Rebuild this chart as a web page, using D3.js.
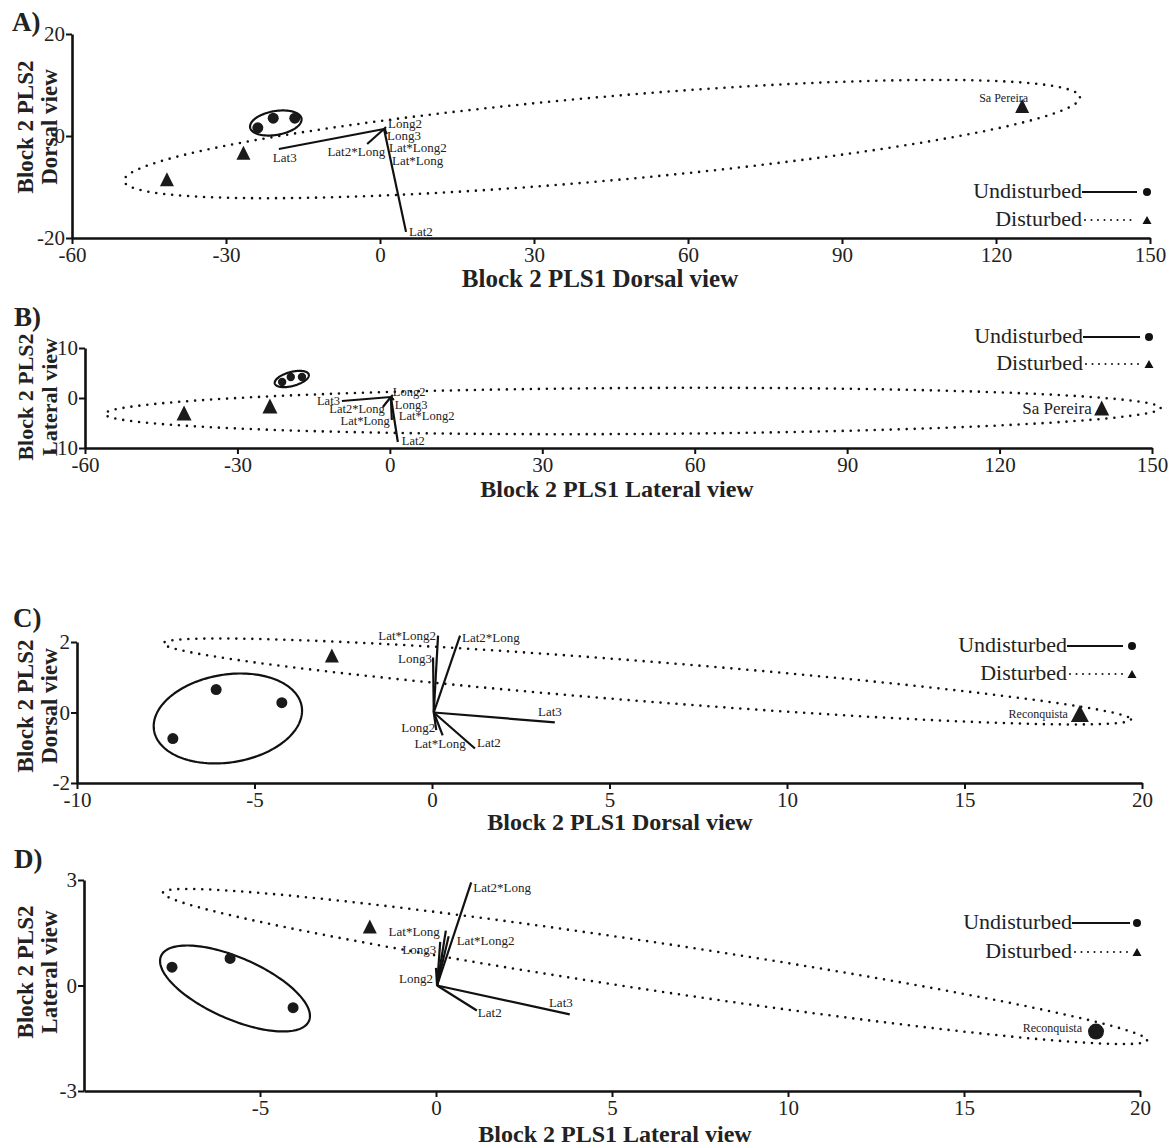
<!DOCTYPE html>
<html><head><meta charset="utf-8">
<script src="https://cdn.jsdelivr.net/npm/d3@7"></script>
<style>
body{margin:0;background:#fff;}
svg{display:block;}
text{font-family:"Liberation Serif","DejaVu Serif",serif;fill:#222;}
</style></head><body>
<svg id="chart" width="1169" height="1146"></svg>
<script>
// ---------- DATA ----------
const panelLabels = ["A)", "B)", "C)", "D)"];
const xTitles = ["Block 2 PLS1 Dorsal view", "Block 2 PLS1 Lateral view", "Block 2 PLS1 Dorsal view", "Block 2 PLS1 Lateral view"];
const yTitles = [["Block 2 PLS2", "Dorsal view"], ["Block 2 PLS2", "Lateral view"], ["Block 2 PLS2", "Dorsal view"], ["Block 2 PLS2", "Lateral view"]];
const legendLabels = ["Undisturbed", "Disturbed"];

const xTicksAB = [-60, -30, 0, 30, 60, 90, 120, 150];
const yTicksA = [-20, 0, 20];
const yTicksB = [-10, 0, 10];
const xTicksC = [-10, -5, 0, 5, 10, 15, 20];
const yTicksC = [-2, 0, 2];
const xTicksD = [-5, 0, 5, 10, 15, 20];
const yTicksD = [-3, 0, 3];

// scores: [PLS1, PLS2]
const undisturbedA = [[-23.8, 1.6], [-20.8, 3.5], [-16.6, 3.5]];
const disturbedA = [[-26.6, -3.3], [-41.5, -8.5], [125.1, 5.9]];
const undisturbedB = [[-21.2, 3.2], [-19.5, 4.2], [-17.3, 4.2]];
const disturbedB = [[-40.5, -3.0], [-23.6, -1.6], [140.1, -2.0]];
const undisturbedC = [[-6.08, 0.65], [-4.23, 0.28], [-7.3, -0.74]];
const disturbedC = [[-2.82, 1.62], [18.25, -0.03]];
const undisturbedD = [[-7.5, 0.52], [-5.85, 0.77], [-4.06, -0.63]];
const disturbedD = [[-1.88, 1.68]];
const reconquistaD = [[18.75, -1.31]];

const siteNames = ["Sa Pereira", "Sa Pereira", "Reconquista", "Reconquista"];
const sitePoints = [[125.1, 5.9], [140.1, -2.0], [18.25, -0.03], [18.75, -1.31]];

// 95% ellipses: centre, semi-axis vector 1, semi-axis vector 2 (data units)
const ellipseUndA = [[-20.3, 2.55], [5.0, 0.88], [0.41, -2.3]];
const ellipseDisA = [[43.25, -0.6], [93.1, 8.2], [0.72, -8.2]];
const ellipseUndB = [[-19.3, 3.8], [3.34, 0.9], [0.35, -1.36]];
const ellipseDisB = [[47.8, -2.6], [103.9, 0.6], [0, -4.6]];
const ellipseUndC = [[-5.75, -0.17], [2.08, 0.34], [0.2, -1.23]];
const ellipseDisC = [[6.06, 0.88], [13.63, -1.08], [-0.044, -0.566]];
const ellipseUndD = [[-5.71, -0.085], [2.10, -0.926], [-0.352, -0.798]];
const ellipseDisD = [[6.22, 0.54], [13.98, -2.10], [-0.10, -0.674]];

// loadings (block 1 variables): origin and end points
const loadingNames = ["Lat3", "Lat2*Long", "Lat2", "Long2", "Long3", "Lat*Long2", "Lat*Long"];
const originA = [0.78, 1.37];
const loadingsA = [[-19.7, -2.55], [-2.5, -1.57], [5.07, -18.8], [1.17, 1.76], [1.17, 1.18], [1.17, 0.78], [1.36, 0.39]];
const originB = [0.2, 0.2];
const loadingsB = [[-9.44, -0.6], [-1.38, -1.8], [1.57, -8.8], [0.59, 0.6], [0.59, -0.2], [0.79, -0.4], [0.39, -4.4]];
const originC = [0.05, 0.0];
const loadingsC = [[3.46, -0.28], [0.79, 2.18], [1.21, -1.02], [0.12, -0.5], [0.03, 1.56], [0.17, 2.18], [0.3, -0.65]];
const originD = [0.03, 0.0];
const loadingsD = [[3.8, -0.82], [1.0, 2.93], [1.16, -0.71], [0.0, 0.5], [0.12, 1.24], [0.36, 1.4], [0.28, 1.56]];

// ---------- LAYOUT ----------
// label placement per loading: [dx, dy, anchor]
const labelLayout = [
  [[-6, 13, "start"], [18, 12, "end"], [3, 4, "start"], [2, 1, "start"], [1, 10, "start"], [3, 20, "start"], [5, 31, "start"]],
  [[-2, 4, "end"], [2, 6, "end"], [4, 3, "start"], [0, 1, "start"], [2, 10, "start"], [5, 20, "start"], [-2, 5, "end"]],
  [[7, -6, "end"], [2, 6, "start"], [2, -1, "start"], [-1, 2, "end"], [-1, 5, "end"], [-2, 4, "end"], [23, 13, "end"]],
  [[3, -7, "end"], [2, 10, "start"], [1, 7, "start"], [-3, 15, "end"], [-4, 12, "end"], [8, 9, "start"], [-6, 5, "end"]]
];
const panels = [
  {xD: [-60, 150], xR: [72, 1150], yD: [-20, 20], yR: [238, 34], xT: xTicksAB, yT: yTicksA,
   und: undisturbedA, dis: disturbedA, extra: [], eu: ellipseUndA, ed: ellipseDisA, o: originA, L: loadingsA,
   lab: [12, 31], xTitle: [600, 287, 25], yTitle: [127, 23], r: 5.5, tri: [14, 14], siteLab: [6, -4, 12], siteTri: null, ldFont: 13,
   leg: {tx: 1082, y1: 192, y2: 220, le: 1137, mx: 1147}},
  {xD: [-60, 150], xR: [85, 1152], yD: [-10, 10], yR: [448, 348], xT: xTicksAB, yT: yTicksB,
   und: undisturbedB, dis: disturbedB, extra: [], eu: ellipseUndB, ed: ellipseDisB, o: originB, L: loadingsB,
   lab: [14, 326], xTitle: [617, 497, 24], yTitle: [397, 22], r: 4.2, tri: [15, 15], siteLab: [-10, 6, 17], siteTri: null, ldFont: 12.5,
   leg: {tx: 1083, y1: 337, y2: 364, le: 1140, mx: 1149}},
  {xD: [-10, 20], xR: [77, 1142], yD: [-2, 2], yR: [783, 642], xT: xTicksC, yT: yTicksC,
   und: undisturbedC, dis: disturbedC, extra: [], eu: ellipseUndC, ed: ellipseDisC, o: originC, L: loadingsC,
   lab: [13, 627], xTitle: [620, 830, 24], yTitle: [706, 23], r: 5.5, tri: [14, 14], siteLab: [-12, 4, 12], siteTri: [18, 17], ldFont: 13,
   leg: {tx: 1067, y1: 646, y2: 674, le: 1123, mx: 1132}},
  {xD: [-10, 20], xR: [84, 1140], yD: [-3, 3], yR: [1091, 880], xT: xTicksD, yT: yTicksD,
   und: undisturbedD, dis: disturbedD, extra: reconquistaD, eu: ellipseUndD, ed: ellipseDisD, o: originD, L: loadingsD,
   lab: [14, 868], xTitle: [615, 1142, 24], yTitle: [972, 23], r: 5.5, tri: [14, 14], siteLab: [-14, 0, 12], siteTri: null, ldFont: 13,
   leg: {tx: 1072, y1: 923, y2: 952, le: 1130, mx: 1137}}
];

const svg = d3.select("#chart");

function triPath(cx, cy, w, h) {
  return `M${cx},${cy - h / 2}L${cx + w / 2},${cy + h / 2}L${cx - w / 2},${cy + h / 2}Z`;
}
function ellipsePts(e) {
  return d3.range(0, 360, 2).map(a => {
    const t = a * Math.PI / 180;
    return [e[0][0] + Math.cos(t) * e[1][0] + Math.sin(t) * e[2][0],
            e[0][1] + Math.cos(t) * e[1][1] + Math.sin(t) * e[2][1]];
  });
}

panels.forEach((p, i) => {
  const g = svg.append("g");
  const x = d3.scaleLinear().domain(p.xD).range(p.xR);
  const y = d3.scaleLinear().domain(p.yD).range(p.yR);
  const line = d3.line().x(d => x(d[0])).y(d => y(d[1])).curve(d3.curveLinearClosed);

  // axes
  const xa = g.append("g").attr("transform", `translate(0,${p.yR[0]})`)
    .call(d3.axisBottom(x).tickValues(p.xT).tickSize(6).tickSizeOuter(0).tickPadding(3).tickFormat(d => String(d)));
  const ya = g.append("g").attr("transform", `translate(${p.xR[0]},0)`)
    .call(d3.axisLeft(y).tickValues(p.yT).tickSize(6).tickSizeOuter(0).tickPadding(1).tickFormat(d => String(d)));
  [xa, ya].forEach(a => {
    a.select(".domain").attr("stroke", "#111").attr("stroke-width", 2.6);
    a.selectAll(".tick line").attr("stroke", "#111").attr("stroke-width", 2);
    a.selectAll(".tick text").attr("font-family", "Liberation Serif").attr("font-size", 21).attr("fill", "#222");
  });

  // ellipses
  g.append("path").attr("d", line(ellipsePts(p.ed))).attr("fill", "none").attr("stroke", "#111")
    .attr("stroke-width", 2.6).attr("stroke-linecap", "round").attr("stroke-dasharray", "0 8");
  g.append("path").attr("d", line(ellipsePts(p.eu))).attr("fill", "none").attr("stroke", "#111").attr("stroke-width", 2.2);

  // loadings
  const L = p.L.map((d, k) => ({name: loadingNames[k], d, lay: labelLayout[i][k]}));
  g.selectAll("line.ld").data(L).join("line").attr("class", "ld")
    .attr("x1", x(p.o[0])).attr("y1", y(p.o[1]))
    .attr("x2", d => x(d.d[0])).attr("y2", d => y(d.d[1]))
    .attr("stroke", "#111").attr("stroke-width", 2.2);
  g.selectAll("text.ld").data(L).join("text").attr("class", "ld")
    .attr("x", d => x(d.d[0]) + d.lay[0]).attr("y", d => y(d.d[1]) + d.lay[1])
    .attr("text-anchor", d => d.lay[2]).attr("font-size", p.ldFont).text(d => d.name);

  // points
  g.selectAll("circle.u").data(p.und).join("circle").attr("class", "u")
    .attr("cx", d => x(d[0])).attr("cy", d => y(d[1])).attr("r", p.r).attr("fill", "#1a1a1a");
  g.selectAll("circle.e").data(p.extra).join("circle").attr("class", "e")
    .attr("cx", d => x(d[0])).attr("cy", d => y(d[1])).attr("r", 8).attr("fill", "#1a1a1a");
  g.selectAll("path.t").data(p.dis).join("path").attr("class", "t")
    .attr("d", (d, k) => {
      const big = p.siteTri && k === p.dis.length - 1;
      const w = big ? p.siteTri[0] : p.tri[0], h = big ? p.siteTri[1] : p.tri[1];
      return triPath(x(d[0]), y(d[1]), w, h);
    })
    .attr("fill", "#1a1a1a");

  // site label
  g.append("text").attr("x", x(sitePoints[i][0]) + p.siteLab[0]).attr("y", y(sitePoints[i][1]) + p.siteLab[1])
    .attr("text-anchor", "end").attr("font-size", p.siteLab[2]).text(siteNames[i]);

  // titles
  g.append("text").attr("x", p.xTitle[0]).attr("y", p.xTitle[1]).attr("text-anchor", "middle")
    .attr("font-weight", "bold").attr("font-size", p.xTitle[2]).attr("fill", "#222").text(xTitles[i]);
  [33, 57].forEach((tx, k) => {
    g.append("text").attr("transform", `translate(${tx},${p.yTitle[0]}) rotate(-90)`).attr("text-anchor", "middle")
      .attr("font-weight", "bold").attr("font-size", p.yTitle[1]).attr("fill", "#222").text(yTitles[i][k]);
  });
  g.append("text").attr("x", p.lab[0]).attr("y", p.lab[1]).attr("font-weight", "bold").attr("font-size", 27)
    .attr("fill", "#111").text(panelLabels[i]);

  // legend
  const lg = p.leg;
  g.append("text").attr("x", lg.tx).attr("y", lg.y1 + 6).attr("text-anchor", "end").attr("font-size", 22).text(legendLabels[0]);
  g.append("text").attr("x", lg.tx).attr("y", lg.y2 + 6).attr("text-anchor", "end").attr("font-size", 22).text(legendLabels[1]);
  g.append("line").attr("x1", lg.tx).attr("x2", lg.le).attr("y1", lg.y1).attr("y2", lg.y1).attr("stroke", "#111").attr("stroke-width", 1.8);
  g.append("line").attr("x1", lg.tx + 3).attr("x2", lg.le).attr("y1", lg.y2).attr("y2", lg.y2).attr("stroke", "#111")
    .attr("stroke-width", 2).attr("stroke-linecap", "round").attr("stroke-dasharray", "0 6.5");
  g.append("circle").attr("cx", lg.mx).attr("cy", lg.y1).attr("r", 4).attr("fill", "#111");
  g.append("path").attr("d", triPath(lg.mx, lg.y2, 9, 8)).attr("fill", "#111");
});
</script></body></html>
